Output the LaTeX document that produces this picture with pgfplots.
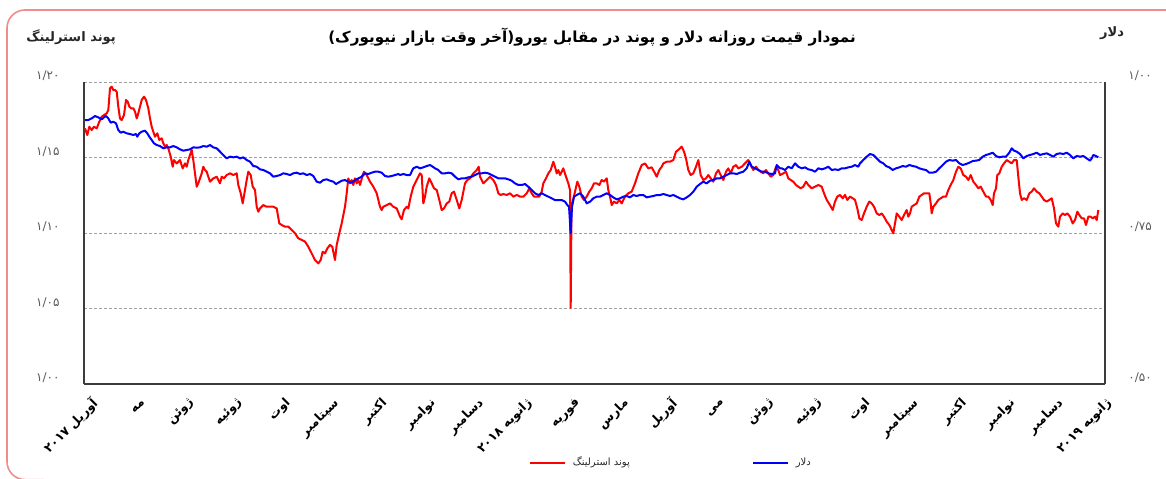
\documentclass[border=0pt]{standalone}
\usepackage{fontspec}
\usepackage{pgfplots}
\pgfplotsset{compat=1.18}
\TeXXeTstate=1
\newfontfamily\arabicfont[Script=Arabic]{DejaVu Sans}
\newcommand{\fa}[1]{{\arabicfont\beginR #1\endR}}
\definecolor{frame}{RGB}{240,140,140}
\definecolor{gridc}{RGB}{160,160,160}
\definecolor{axc}{RGB}{60,60,60}
\definecolor{tickc}{RGB}{90,90,90}
\begin{document}
\begin{tikzpicture}[x=1pt,y=1pt]
\useasboundingbox (0,0) rectangle (583,239);
\draw[color=frame, line width=0.8pt, rounded corners=9pt] (22,-0.8) -- (3.5,-0.8) -- (3.5,234) -- (583,234);
\node[font=\bfseries\fontsize{7.6}{9}\selectfont, text=black] at (296,220.5) {\fa{نمودار قیمت روزانه  دلار و پوند در مقابل یورو(آخر وقت بازار نیویورک)}};
\node[font=\bfseries\fontsize{6.5}{8}\selectfont, text=black!85] at (35.5,220.5) {\fa{پوند استرلینگ}};
\node[font=\bfseries\fontsize{6.5}{8}\selectfont, text=black!85] at (556,222.5) {\fa{دلار}};
\begin{axis}[
  at={(42pt,47pt)}, anchor=south west,
  width=510.5pt, height=151pt, scale only axis,
  xmin=0, xmax=1021, ymin=1, ymax=1.2,
  axis x line*=bottom, axis y line*=left,
  axis line style={-, draw=axc, line width=0.8pt},
  major tick length=0pt,
  ytick={1,1.05,1.1,1.15,1.2},
  yticklabels={{\arabicfont ۱/۰۰},{\arabicfont ۱/۰۵},{\arabicfont ۱/۱۰},{\arabicfont ۱/۱۵},{\arabicfont ۱/۲۰}},
  yticklabel style={font=\fontsize{6}{7}\selectfont, text=tickc, anchor=east, inner sep=0pt, xshift=-12pt, yshift=3pt},
  ymajorgrids,
  grid style={gridc, line width=0.5pt, dash pattern=on 1.5pt off 1pt},
  xtick={3,51.3,99.6,147.9,196.2,244.5,292.8,341.1,389.4,437.7,486,534.3,582.6,630.9,679.2,727.5,775.8,824.1,872.4,920.7,969,1017.3},
  xticklabels={
    {\fa{آوریل \beginL۲۰۱۷\endL{}}},{\fa{مه}},{\fa{ژوئن}},{\fa{ژوئیه}},{\fa{اوت}},{\fa{سپتامبر}},{\fa{اکتبر}},{\fa{نوامبر}},{\fa{دسامبر}},
    {\fa{ژانویه \beginL۲۰۱۸\endL{}}},{\fa{فوریه}},{\fa{مارس}},{\fa{آوریل}},{\fa{می}},{\fa{ژوئن}},{\fa{ژوئیه}},{\fa{اوت}},{\fa{سپتامبر}},{\fa{اکتبر}},{\fa{نوامبر}},{\fa{دسامبر}},
    {\fa{ژانویه \beginL۲۰۱۹\endL{}}}},
  xticklabel style={font=\bfseries\fontsize{6.2}{7}\selectfont, text=black, rotate=45, anchor=east, inner sep=0pt, xshift=-3pt, yshift=-9pt},
]
\addplot[color=red, line width=1pt, line join=round] coordinates {
(1.0,1.1693)(3.3,1.1649)(5.3,1.1704)(7.7,1.1682)(10,1.1704)(12.7,1.1693)(15.3,1.1737)(17.7,1.1770)(20,1.1781)(22.7,1.1792)(24.3,1.1815)(26,1.1958)(27.7,1.1969)(29.3,1.1947)(31,1.1947)(32.7,1.1936)(34.3,1.1837)(36,1.1759)(37.7,1.1748)(40,1.1781)(42,1.1881)(43.7,1.1870)(45.3,1.1837)(47,1.1826)(49.3,1.1826)(51,1.1804)(52.7,1.1759)(54.3,1.1792)(56,1.1837)(57.7,1.1881)(60,1.1903)(62,1.1881)(64.3,1.1826)(66,1.1759)(67.7,1.1704)(69.3,1.1671)(71,1.1638)(73.3,1.1660)(75.3,1.1616)(77.7,1.1627)(79.3,1.1594)(81,1.1572)(82.7,1.1583)(84.3,1.1561)(86.7,1.1506)(88.7,1.1439)(90,1.1483)(92.7,1.1461)(96,1.1483)(98.7,1.1428)(101,1.1461)(102.7,1.1439)(104.3,1.1483)(106,1.1517)(107.7,1.1550)(109.3,1.1483)(111,1.1395)(112.7,1.1307)(114.3,1.1329)(116,1.1362)(117.7,1.1395)(119.3,1.1439)(121,1.1417)(122.7,1.1406)(124.3,1.1373)(126,1.1340)(129.3,1.1362)(132.7,1.1373)(136,1.1329)(137.7,1.1373)(140,1.1362)(142.7,1.1384)(146,1.1395)(149.3,1.1384)(152.7,1.1395)(154.3,1.1318)(156.7,1.1263)(158.7,1.1196)(161,1.1285)(162.7,1.1351)(164.3,1.1406)(166.7,1.1384)(168.7,1.1307)(171,1.1285)(172.7,1.1174)(174.3,1.1141)(176,1.1163)(179.3,1.1185)(182.7,1.1174)(186,1.1174)(189.3,1.1174)(192.7,1.1163)(195.3,1.1064)(197.7,1.1053)(201,1.1042)(204.3,1.1042)(207.7,1.1020)(211,1.0998)(214.3,1.0965)(217.7,1.0954)(221,1.0943)(224.3,1.0909)(227.7,1.0865)(231,1.0821)(234.3,1.0799)(236.7,1.0821)(238.7,1.0876)(241,1.0865)(243.3,1.0898)(246,1.0921)(248.3,1.0909)(251,1.0821)(252.7,1.0921)(255.3,1.0998)(257.7,1.1064)(261,1.1174)(262.7,1.1263)(264.3,1.1362)(266,1.1329)(267.7,1.1351)(269.3,1.1318)(271,1.1362)(272.7,1.1329)(274.3,1.1351)(276,1.1318)(278.7,1.1384)(280,1.1406)(282.7,1.1384)(286,1.1340)(289.3,1.1307)(292.7,1.1263)(296,1.1174)(297.7,1.1152)(299.3,1.1174)(302.7,1.1185)(306,1.1196)(309.3,1.1174)(312.7,1.1163)(316,1.1108)
(317.7,1.1091)(320,1.1152)(322.7,1.1174)(324.3,1.1163)(326.7,1.1241)(329.3,1.1307)(332.7,1.1351)(336,1.1395)(337.7,1.1384)(339.3,1.1196)(341,1.1241)(342.7,1.1307)(345.3,1.1362)(347.7,1.1329)(350,1.1296)(352.7,1.1285)(355.3,1.1219)(357.7,1.1152)(360,1.1163)(362.7,1.1196)(365.3,1.1208)(367.7,1.1263)(370,1.1274)(372.7,1.1219)(375.3,1.1163)(377.7,1.1219)(381,1.1329)(383.3,1.1351)(386,1.1362)(389.3,1.1395)(392.7,1.1417)(394.7,1.1439)(396,1.1373)(399.3,1.1329)(402.7,1.1351)(406,1.1373)(409.3,1.1351)(412,1.1318)(414.3,1.1263)(416.7,1.1252)(419.3,1.1258)(422.7,1.1252)(426,1.1263)(429.3,1.1241)(432.7,1.1252)(436,1.1241)(439.3,1.1241)(442.7,1.1263)(445.3,1.1296)(447.7,1.1263)(450,1.1241)(452.7,1.1241)(455.3,1.1241)(457.7,1.1274)(459.3,1.1329)(462,1.1362)(464.3,1.1395)(466.7,1.1417)(469.3,1.1472)(471,1.1439)(472.7,1.1395)(474.3,1.1417)(476,1.1384)(477.7,1.1406)(479.3,1.1428)(482,1.1373)(484.3,1.1329)(486,1.1285)(486.7,1.0505)(487.5,1.1174)(491,1.1274)(493.3,1.1340)(495.3,1.1307)(497.7,1.1241)(500,1.1219)(502.7,1.1241)(505.3,1.1274)(507.7,1.1296)(510,1.1329)(512.7,1.1329)(515.3,1.1318)(517.7,1.1351)(520,1.1340)(522.7,1.1362)(524.3,1.1285)(526,1.1241)(527.7,1.1185)(530,1.1208)(532.7,1.1196)(535.3,1.1219)(537.7,1.1196)(541,1.1241)(544.3,1.1263)(547.7,1.1274)(551,1.1329)(554.3,1.1395)(557.7,1.1450)(561,1.1461)(564.3,1.1428)(567.7,1.1435)(571,1.1395)(572.7,1.1373)(575.3,1.1417)(577.7,1.1439)(579.3,1.1461)(582.7,1.1472)(586,1.1472)(589.3,1.1483)(592,1.1539)(594.3,1.1550)(597.7,1.1572)(600,1.1539)(602,1.1494)(604.3,1.1417)(606.7,1.1384)(609.3,1.1395)(612,1.1439)(614.3,1.1483)(616.7,1.1384)(619.3,1.1351)(622,1.1362)(624.3,1.1384)(626.7,1.1362)(629.3,1.1340)(632,1.1395)(634.3,1.1417)(636.7,1.1384)(639.3,1.1351)(642,1.1406)(644.3,1.1428)(646.7,1.1395)(649.3,1.1439)(652,1.1450)(654.3,1.1428)(657.7,1.1439)(661,1.1461)(664.3,1.1483)(666.7,1.1450)(669.3,1.1417)(672,1.1439)(674.3,1.1417)(676.7,1.1406)(679.3,1.1395)(682,1.1417)(684.3,1.1395)(686.7,1.1373)(689.3,1.1384)(692,1.1439)(694.3,1.1417)(696,1.1384)
(699.3,1.1395)(702,1.1406)(704.3,1.1362)(706.7,1.1351)(709.3,1.1340)(712,1.1318)(714.3,1.1307)(716.7,1.1296)(719.3,1.1307)(722,1.1340)(724.3,1.1318)(727.7,1.1296)(731,1.1307)(734.3,1.1318)(737.7,1.1307)(740,1.1263)(742.7,1.1219)(746,1.1185)(748.7,1.1152)(751,1.1208)(753.3,1.1241)(756,1.1252)(758.7,1.1230)(761,1.1252)(763.3,1.1219)(766,1.1241)(768.7,1.1230)(771,1.1219)(773.3,1.1163)(775.3,1.1097)(777.7,1.1086)(780,1.1130)(782.7,1.1174)(785.3,1.1208)(787.7,1.1196)(790,1.1174)(792.7,1.1130)(795.3,1.1119)(797.7,1.1130)(800,1.1108)(802.7,1.1075)(805.3,1.1053)(807.7,1.1020)(809.3,1.0998)(811,1.1064)(812.7,1.1130)(815.3,1.1108)(817.7,1.1086)(820,1.1119)(822.7,1.1152)(824.3,1.1108)(826,1.1130)(827.7,1.1174)(830,1.1185)(832.7,1.1196)(835.3,1.1241)(837.7,1.1252)(840,1.1263)(842.7,1.1263)(845.3,1.1263)(846.7,1.1196)(847.7,1.1130)(849.3,1.1174)(852,1.1196)(854.3,1.1219)(856.7,1.1230)(859.3,1.1241)(862,1.1241)(864.3,1.1285)(866.7,1.1318)(869.3,1.1351)(872,1.1406)(874.3,1.1439)(876.7,1.1428)(879.3,1.1384)(882,1.1373)(884.3,1.1351)(886.7,1.1384)(889.3,1.1340)(892,1.1318)(894.3,1.1296)(896.7,1.1307)(899.3,1.1274)(902,1.1241)(904.3,1.1241)(906.7,1.1219)(908.7,1.1185)(910,1.1263)(912,1.1296)(913.3,1.1384)(915.3,1.1395)(917.7,1.1439)(920,1.1461)(922.7,1.1483)(925.3,1.1472)(927.7,1.1461)(930,1.1483)(932.7,1.1483)(934.3,1.1373)(936,1.1263)(937.7,1.1219)(940,1.1230)(942.7,1.1219)(945.3,1.1263)(947.7,1.1274)(950,1.1296)(952.7,1.1274)(955.3,1.1263)(957.7,1.1241)(960,1.1219)(962.7,1.1208)(965.3,1.1219)(967.7,1.1230)(970,1.1163)(972,1.1064)(974.3,1.1042)(976,1.1108)(978.7,1.1130)(981,1.1119)(983.3,1.1130)(986,1.1108)(988.7,1.1064)(991,1.1086)(993.3,1.1141)(995.3,1.1119)(997.7,1.1097)(1000,1.1097)(1002,1.1053)(1004.3,1.1108)(1006.7,1.1108)(1008.7,1.1097)(1011,1.1108)(1012.7,1.1086)(1014.3,1.1152)
};
\end{axis}
\begin{axis}[
  at={(42pt,47pt)}, anchor=south west,
  width=510.5pt, height=151pt, scale only axis,
  xmin=0, xmax=1021, ymin=0.5, ymax=1.0,
  axis x line=none, axis y line*=right,
  axis line style={-, draw=axc, line width=0.8pt},
  major tick length=0pt,
  xtick=\empty,
  ytick={0.5,0.75,1},
  yticklabels={{\arabicfont ۰/۵۰},{\arabicfont ۰/۷۵},{\arabicfont ۱/۰۰}},
  yticklabel style={font=\fontsize{6}{7}\selectfont, text=tickc, anchor=west, inner sep=0pt, xshift=11.5pt, yshift=3pt},
  legend style={draw=none, fill=none, inner sep=0pt, at={(0.435,-0.2616)}, anchor=west,
    font=\fontsize{5}{6}\selectfont, text=black!85, nodes={inner sep=0pt},
    /tikz/every odd column/.append style={column sep=3.5pt},
    /tikz/every even column/.append style={column sep=61pt}},
  legend columns=2,
  legend image code/.code={\draw[#1] (0pt,0pt) -- (17.5pt,0pt);},
]
\addlegendimage{color=red, line width=1.2pt}
\addlegendentry{\fa{پوند استرلینگ}}
\addplot[color=blue, line width=1pt, line join=round] coordinates {
(1,0.9371)(4.3,0.9371)(7.7,0.9398)(11,0.9437)(14.3,0.9415)(17.7,0.9382)(20,0.9415)(22,0.9437)(24.3,0.9398)(26.7,0.9327)(29.3,0.9343)(32,0.9316)(34.3,0.9205)(36.7,0.9161)(39.3,0.9178)(42.7,0.9150)(46,0.9139)(49.3,0.9123)(52,0.9139)(53.3,0.9095)(55.3,0.9150)(57.7,0.9178)(61,0.9194)(63.3,0.9150)(65.3,0.9095)(67.7,0.9040)(70,0.8985)(72.7,0.8957)(76,0.8940)(79.3,0.8902)(82.7,0.8918)(86,0.8918)(89.3,0.8940)(92.7,0.8918)(96,0.8885)(99.3,0.8863)(102.7,0.8874)(106,0.8885)(109.3,0.8918)(112.7,0.8913)(116,0.8918)(119.3,0.8940)(122.7,0.8929)(126,0.8957)(129.3,0.8918)(132.7,0.8902)(136,0.8847)(139.3,0.8791)(142.7,0.8736)(146,0.8764)(149.3,0.8753)(152.7,0.8764)(156,0.8736)(159.3,0.8753)(162.7,0.8709)(166,0.8681)(169.3,0.8609)(172.7,0.8598)(176,0.8554)(179.3,0.8543)(182.7,0.8515)(186,0.8488)(189.3,0.8433)(192.7,0.8444)(196,0.8460)(199.3,0.8488)(202.7,0.8477)(206,0.8460)(209.3,0.8488)(212.7,0.8499)(216,0.8477)(219.3,0.8488)(222.7,0.8460)(226,0.8477)(229.3,0.8444)(232.7,0.8350)(236,0.8333)(239.3,0.8377)(242.7,0.8389)(246,0.8366)(249.3,0.8350)(252,0.8311)(254.3,0.8333)(257.7,0.8366)(261,0.8377)(264.3,0.8350)(267.7,0.8333)(271,0.8377)(274.3,0.8405)(277.7,0.8433)(281,0.8488)(284.3,0.8477)(287.7,0.8499)(291,0.8515)(294.3,0.8515)(297.7,0.8499)(301,0.8444)(304.3,0.8433)(307.7,0.8444)(311,0.8460)(314.3,0.8477)(316,0.8460)
(319.3,0.8477)(322.7,0.8460)(326,0.8460)(329.3,0.8571)(332.7,0.8598)(336,0.8571)(339.3,0.8587)(342.7,0.8609)(346,0.8626)(348.7,0.8598)(351,0.8571)(354.3,0.8543)(357.7,0.8488)(361,0.8488)(364.3,0.8499)(367.7,0.8488)(371,0.8433)(374.3,0.8389)(377.7,0.8405)(381,0.8405)(384.3,0.8422)(387.7,0.8433)(391,0.8460)(394.3,0.8488)(397.7,0.8488)(401,0.8499)(404.3,0.8488)(407.7,0.8460)(411,0.8433)(414.3,0.8405)(417.7,0.8405)(421,0.8405)(424.3,0.8389)(427.7,0.8366)(431,0.8322)(434.3,0.8295)(437.7,0.8295)(441,0.8311)(444.3,0.8267)(447.7,0.8212)(451,0.8157)(454.3,0.8129)(457.7,0.8157)(461,0.8129)(464.3,0.8102)(467.7,0.8074)(471,0.8046)(474.3,0.8046)(477.7,0.8046)(481,0.8019)(483.3,0.7964)(485,0.7936)(486.7,0.7494)(488,0.7936)(490,0.8102)(492.7,0.8129)(496,0.8157)(499.3,0.8102)(502.7,0.7991)(506,0.8019)(509.3,0.8074)(512.7,0.8102)(516,0.8102)(519.3,0.8129)(522.7,0.8157)(526,0.8129)(529.3,0.8090)(532.7,0.8057)(536,0.8074)(539.3,0.8102)(542.7,0.8113)(546,0.8090)(549.3,0.8129)(552.7,0.8113)(556,0.8129)(559.3,0.8129)(562.7,0.8090)(566,0.8102)(569.3,0.8113)(572.7,0.8129)(576,0.8129)(579.3,0.8146)(582.7,0.8129)(586,0.8113)(589.3,0.8129)(592.7,0.8102)(596,0.8074)(599.3,0.8057)(602.7,0.8090)(606,0.8129)(609.3,0.8184)(612.7,0.8267)(616,0.8311)(619.3,0.8350)(622.7,0.8322)(626,0.8366)(629.3,0.8377)(632.7,0.8405)(636,0.8405)(639.3,0.8433)(642.7,0.8460)(646,0.8488)(649.3,0.8488)(652.7,0.8477)(656,0.8499)(659.3,0.8515)(662.7,0.8571)(665.3,0.8681)(667.7,0.8598)(671,0.8571)(674.3,0.8543)(677.7,0.8515)(681,0.8515)(684.3,0.8488)(687.7,0.8477)(691,0.8488)(692.7,0.8626)(694.3,0.8598)(696,0.8571)
(697.7,0.8571)(701,0.8543)(704.3,0.8598)(707.7,0.8571)(711,0.8653)(714.3,0.8598)(717.7,0.8571)(721,0.8587)(724.3,0.8554)(727.7,0.8543)(731,0.8515)(734.3,0.8571)(737.7,0.8554)(741,0.8571)(744.3,0.8598)(747.7,0.8543)(751,0.8554)(754.3,0.8543)(757.7,0.8571)(761,0.8571)(764.3,0.8587)(767.7,0.8598)(771,0.8626)(774.3,0.8598)(776,0.8653)(779.3,0.8709)(782.7,0.8764)(786,0.8808)(789.3,0.8792)(792.7,0.8736)(796,0.8681)(799.3,0.8653)(802,0.8609)(805.3,0.8587)(808.7,0.8543)(812,0.8571)(815.3,0.8587)(818.7,0.8609)(822,0.8598)(825.3,0.8626)(828.7,0.8609)(832,0.8598)(835.3,0.8571)(838.7,0.8554)(842,0.8543)(845.3,0.8499)(848.7,0.8499)(852,0.8515)(855.3,0.8571)(858.7,0.8626)(862,0.8681)(865.3,0.8709)(868.7,0.8698)(872,0.8709)(875.3,0.8653)(878.7,0.8626)(882,0.8642)(885.3,0.8664)(888.7,0.8692)(892,0.8698)(895.3,0.8709)(898.7,0.8764)(902,0.8792)(905.3,0.8808)(908.7,0.8830)(912,0.8775)(915.3,0.8753)(918.7,0.8764)(922,0.8764)(925.3,0.8830)(927.7,0.8902)(930,0.8863)(932.7,0.8847)(936,0.8808)(939.3,0.8736)(942.7,0.8775)(946,0.8792)(949.3,0.8808)(952.7,0.8830)(956,0.8792)(959.3,0.8808)(962.7,0.8819)(966,0.8792)(969.3,0.8764)(972.7,0.8808)(976,0.8819)(979.3,0.8808)(982.7,0.8830)(986,0.8792)(989.3,0.8736)(992.7,0.8775)(996,0.8764)(999.3,0.8775)(1002.7,0.8736)(1006,0.8698)(1007.7,0.8736)(1009.3,0.8792)(1012,0.8775)(1014.3,0.8753)
};
\addlegendentry{\fa{دلار}}
\end{axis}
\end{tikzpicture}
\end{document}
